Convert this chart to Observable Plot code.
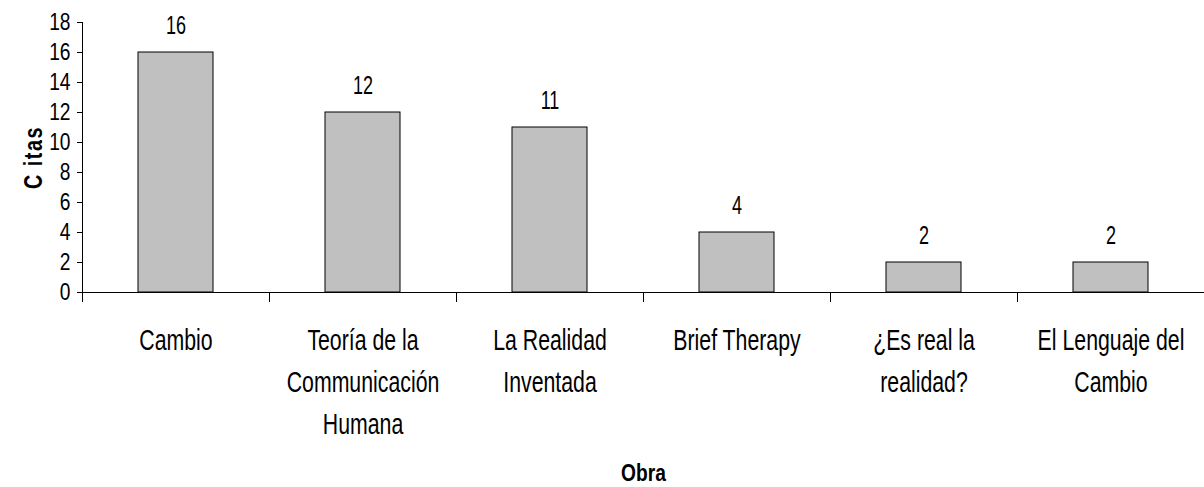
<!DOCTYPE html>
<html>
<head>
<meta charset="utf-8">
<script src="https://cdn.jsdelivr.net/npm/d3@7"></script>
<script src="https://cdn.jsdelivr.net/npm/@observablehq/plot@0.6"></script>
<style>
  html, body { margin: 0; padding: 0; background: #fff; }
  svg { display: block; }
</style>
</head>
<body>
<div id="chart"></div>
<script>
const obras = ["Cambio", "Teoría de la Communicación Humana", "La Realidad Inventada", "Brief Therapy", "¿Es real la realidad?", "El Lenguaje del Cambio"];
const labels = ["Cambio", "Teoría de la\nCommunicación\nHumana", "La Realidad\nInventada", "Brief Therapy", "¿Es real la\nrealidad?", "El Lenguaje del\nCambio"];
const citas = [16, 12, 11, 4, 2, 2];
const yTicks = [0, 2, 4, 6, 8, 10, 12, 14, 16, 18];

const data = obras.map((o, i) => ({obra: o, label: labels[i], citas: citas[i]}));

const W = 1204, H = 487;
const mL = 82, mR = 0, mT = 22, mB = 195;
const step = (W - mL - mR) / obras.length;
const font = "'Liberation Sans', Arial, sans-serif";

const chart = Plot.plot({
  width: W,
  height: H,
  marginLeft: mL,
  marginRight: mR,
  marginTop: mT,
  marginBottom: mB,
  style: {fontFamily: font, color: "#000", background: "#fff"},
  x: {domain: obras, paddingInner: 0.6, paddingOuter: 0.3, axis: null},
  y: {domain: [0, 18], axis: null},
  marks: [
    Plot.barY(data, {x: "obra", y: "citas", fill: "#C0C0C0", stroke: "#000", strokeWidth: 1}),
    Plot.ruleY([0], {stroke: "#000"}),
    Plot.frame({anchor: "left", stroke: "#000"}),
    Plot.ruleX(data, {x: "obra", dx: -step / 2, y1: 0, y2: -0.667, stroke: "#000"}),
    Plot.axisY({ticks: yTicks, tickSize: 5, tickPadding: 7, fontSize: 24, label: null, stroke: "#000", fill: "#000"}),
    Plot.text(data, {x: "obra", y: "citas", text: d => String(d.citas), lineAnchor: "bottom", dy: -19, fontSize: 25, fill: "#000"}),
    Plot.text(data, {x: "obra", y: 0, text: "label", lineAnchor: "top", dy: 28, lineHeight: 1.4, fontSize: 30, fill: "#000"}),
    Plot.text(["C itas"], {frameAnchor: "left", textAnchor: "middle", rotate: -90, dx: -49, fontWeight: "bold", fontSize: 26, fill: "#000"}),
    Plot.text(["Obra"], {frameAnchor: "bottom", textAnchor: "middle", lineAnchor: "bottom", dy: 188, fontWeight: "bold", fontSize: 24, fill: "#000"})
  ]
});

// narrow the glyphs horizontally, like the condensed face of the original
const squeeze = (sel, s) => d3.select(chart).selectAll(sel).each(function () {
  const t = this.getAttribute("transform") || "";
  this.setAttribute("transform", t + ` scale(${s},1)`);
});
squeeze("g[font-size='24'] text", 0.8);   // y tick labels and "Obra"
squeeze("g[font-size='25'] text", 0.72);  // value labels
squeeze("g[font-size='30'] text", 0.71);  // category labels
squeeze("g[font-size='26'] text", 0.76);  // "C itas"
d3.select(chart).selectAll("g[font-size='26'] text").style("letter-spacing", "2px");

document.getElementById("chart").appendChild(chart);
</script>
</body>
</html>
